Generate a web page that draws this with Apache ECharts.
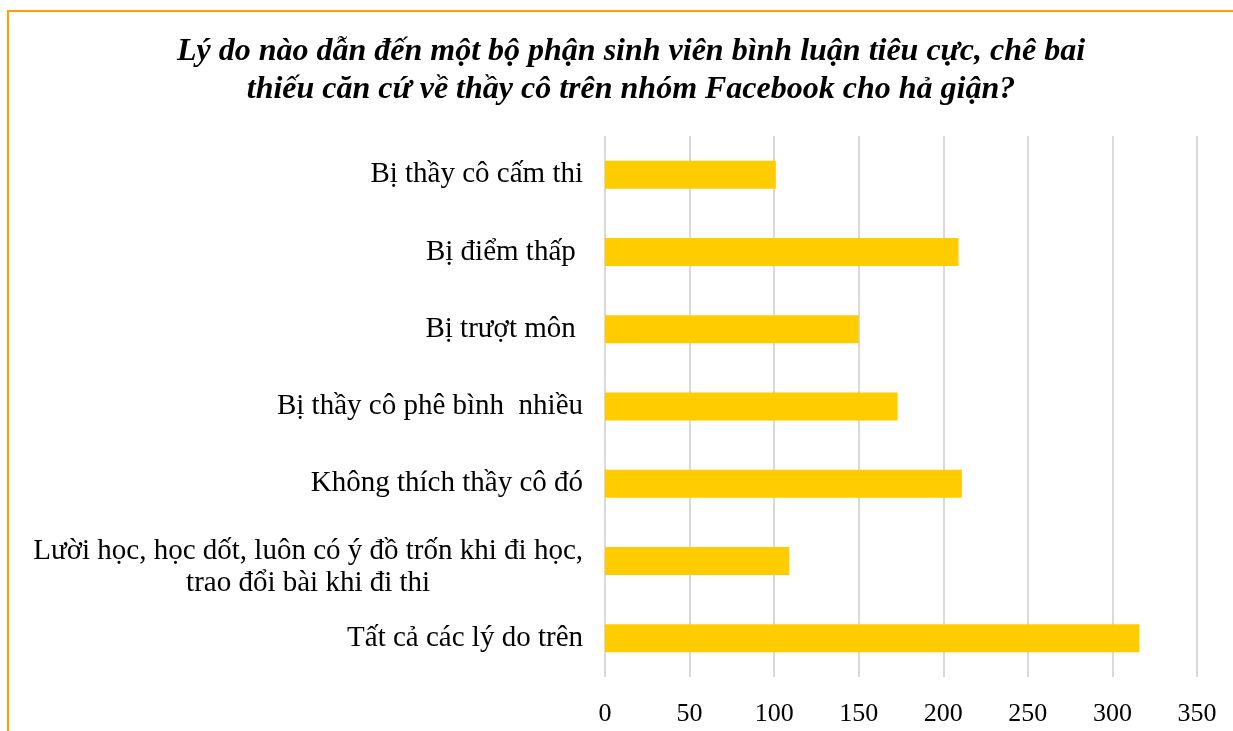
<!DOCTYPE html>
<html>
<head>
<meta charset="utf-8">
<script src="https://cdn.jsdelivr.net/npm/echarts@6/dist/echarts.min.js"></script>
<style>
html,body{margin:0;padding:0;background:#fff;overflow:hidden;}
#frame{position:absolute;left:7px;top:10px;width:1300px;height:800px;border-left:2px solid #FFA000;border-top:2px solid #FFA000;}
#chart{position:absolute;left:0;top:0;width:1233px;height:731px;}
</style>
</head>
<body>
<div id="frame"></div>
<div id="chart"></div>
<script>
const titleText = 'Lý do nào dẫn đến một bộ phận sinh viên bình luận tiêu cực, chê bai\nthiếu căn cứ về thầy cô trên nhóm Facebook cho hả giận?';
const categories = [
  'Bị thầy cô cấm thi',
  'Bị điểm thấp ',
  'Bị trượt môn ',
  'Bị thầy cô phê bình  nhiều',
  'Không thích thầy cô đó',
  'Lười học, học dốt, luôn có ý đồ trốn khi đi học,\ntrao đổi bài khi đi thi',
  'Tất cả các lý do trên'
];
const values = [101, 209, 150, 173, 211, 109, 316];
const xTicks = [0, 50, 100, 150, 200, 250, 300, 350];

const chart = echarts.init(document.getElementById('chart'));
chart.setOption({
  animation: false,
  title: {
    text: titleText,
    left: 626,
    textAlign: 'center',
    top: 28,
    textStyle: {
      fontFamily: 'Liberation Serif',
      fontStyle: 'italic',
      fontWeight: 'bold',
      fontSize: 32,
      lineHeight: 38,
      color: '#000'
    }
  },
  grid: { left: 605, right: 36, top: 136, bottom: 54, containLabel: false },
  xAxis: {
    type: 'value',
    min: xTicks[0],
    max: xTicks[xTicks.length - 1],
    interval: 50,
    axisLine: { show: false },
    axisTick: { show: false },
    splitLine: { show: true, lineStyle: { color: '#d9d9d9', width: 2 } },
    axisLabel: {
      margin: 24,
      fontFamily: 'Liberation Serif',
      fontSize: 26,
      color: '#000'
    }
  },
  yAxis: {
    type: 'category',
    data: categories,
    inverse: true,
    axisLine: { show: false },
    axisTick: { show: false },
    axisLabel: {
      margin: 22,
      fontFamily: 'Liberation Serif',
      fontSize: 29,
      color: '#000',
      formatter: function (v) {
        if (v.indexOf('\n') < 0) return v;
        const parts = v.split('\n');
        return '{e| }\n{c|' + parts[0] + '}\n{c|' + parts[1] + '}';
      },
      rich: {
        e: { fontSize: 1, lineHeight: 12 },
        c: { align: 'center', fontFamily: 'Liberation Serif', fontSize: 29, color: '#000', lineHeight: 32 }
      }
    }
  },
  series: [{
    type: 'bar',
    data: values,
    barWidth: 28,
    itemStyle: { color: '#FFCC00' }
  }]
});
</script>
</body>
</html>
